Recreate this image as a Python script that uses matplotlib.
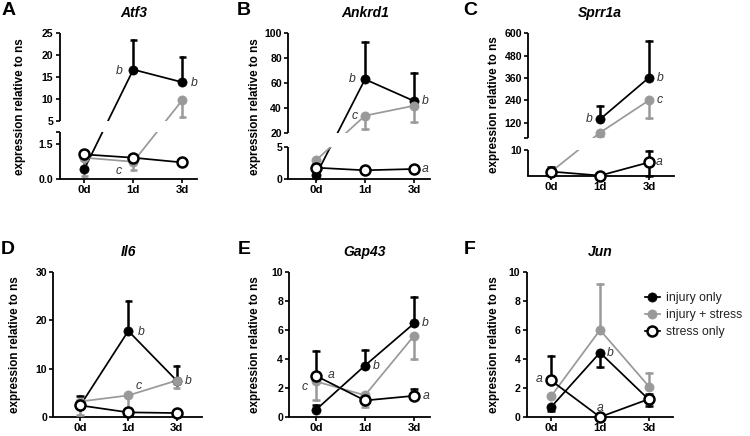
import numpy as np
import matplotlib
matplotlib.use('Agg')
import matplotlib.pyplot as plt
from matplotlib.lines import Line2D

plt.rcParams['font.family'] = ['Liberation Sans', 'DejaVu Sans']

nan = np.nan

days = ['0d', '1d', '3d']
series_names = ['injury only', 'injury + stress', 'stress only']

# each panel: rows = injury only, injury + stress, stress only ; cols = 0d, 1d, 3d
atf3_mean = [[0.42, 16.7, 13.8], [0.9, 0.73, 9.7], [1.04, 0.9, 0.70]]
atf3_up = [[0.38, 6.8, 5.8], [0, 0, 0], [0, 0, 0]]
atf3_dn = [[0, 0, 0], [0.76, 0.35, 3.8], [0, 0, 0]]
atf3_marks = [('b', 0.71, 16.4), ('b', 2.24, 13.6), ('c', 0.71, 0.34)]

ankrd1_mean = [[0.6, 63.0, 45.5], [2.9, 33.7, 41.7], [1.75, 1.35, 1.55]]
ankrd1_up = [[0, 29.8, 22.3], [0, 0, 0], [0.5, 0, 0.45]]
ankrd1_dn = [[0, 0, 0], [0, 10.7, 13.3], [0.5, 0, 0.45]]
ankrd1_marks = [('b', 0.75, 63.0), ('c', 0.78, 33.7), ('b', 2.22, 45.5), ('a', 2.22, 1.55)]

sprr1a_mean = [[nan, 138, 362], [1.5, 66, 240], [1.6, 0.05, 5.2]]
sprr1a_up = [[0, 70, 196], [0, 0, 0], [1.7, 0, 4.5]]
sprr1a_dn = [[0, 0, 0], [0, 18, 93], [0, 0, 5.2]]
sprr1a_marks = [('b', 0.78, 138), ('b', 2.24, 362), ('c', 2.21, 240), ('a', 2.21, 5.2)]

il6_mean = [[2.3, 17.8, 7.55], [3.2, 4.46, 7.55], [2.4, 0.96, 0.82]]
il6_up = [[2.0, 6.2, 3.05], [0, 0, 0], [0, 0, 0]]
il6_dn = [[0, 0, 0], [2.7, 2.6, 1.65], [0, 0, 0]]
il6_marks = [('b', 1.26, 17.6), ('c', 1.21, 6.4), ('b', 2.24, 7.4)]

gap43_mean = [[0.5, 3.55, 6.45], [2.45, 1.5, 5.6], [2.84, 1.14, 1.46]]
gap43_up = [[0.3, 1.07, 1.83], [0, 0, 0], [1.71, 0, 0.49]]
gap43_dn = [[0, 0, 0], [1.26, 0.84, 1.62], [0, 0, 0]]
gap43_marks = [('a', 0.3, 2.9), ('c', -0.24, 2.05), ('b', 1.22, 3.5), ('b', 2.24, 6.5), ('a', 2.24, 1.45)]

jun_mean = [[0.68, 4.44, 1.19], [1.42, 6.0, 2.1], [2.52, 0.0, 1.24]]
jun_up = [[0, 0, 0], [0, 3.2, 0.92], [1.69, 0, 0.36]]
jun_dn = [[0.28, 0.96, 0.46], [0, 0, 0], [0, 0, 0]]
jun_marks = [('a', -0.25, 2.6), ('a', 1.0, 0.62), ('b', 1.2, 4.44)]

W, H = 750, 436
fig = plt.figure(figsize=(7.5, 4.36), dpi=100)


def px(x, y):
    return x / W, 1 - y / H


# panel geometry in figure pixels: spine x, axis end x, 0d tick x, px per day,
# y segments (lo, hi, y_px at lo, y_px at hi), letter x, ylabel x
panels = [
    dict(gene='Atf3', letter='A', mean=atf3_mean, up=atf3_up, dn=atf3_dn, marks=atf3_marks,
         spine=59.5, end=197, t0=84.3, dx=49, lx=9, ylx=20,
         segs=[(0, 2, 179, 131.7), (5, 25, 120.7, 33.3)],
         ticks=[(0, '0.0'), (1.5, '1.5'), (2, ''), (5, '5'), (10, '10'), (15, '15'), (20, '20'), (25, '25')]),
    dict(gene='Ankrd1', letter='B', mean=ankrd1_mean, up=ankrd1_up, dn=ankrd1_dn, marks=ankrd1_marks,
         spine=288.3, end=430, t0=316, dx=49, lx=244, ylx=255,
         segs=[(0, 5, 179, 146.7), (20, 100, 132.7, 33.3)],
         ticks=[(0, '0'), (5, '5'), (20, '20'), (40, '40'), (60, '60'), (80, '80'), (100, '100')]),
    dict(gene='Sprr1a', letter='C', mean=sprr1a_mean, up=sprr1a_up, dn=sprr1a_dn, marks=sprr1a_marks,
         spine=528.3, end=674, t0=551, dx=49, lx=470, ylx=494,
         segs=[(0, 10, 175.7, 150), (40, 600, 137.5, 33.3)],
         ticks=[(10, '10'), (40, ''), (120, '120'), (240, '240'), (360, '360'), (480, '480'), (600, '600')]),
    dict(gene='Il6', letter='D', mean=il6_mean, up=il6_up, dn=il6_dn, marks=il6_marks,
         spine=53.3, end=202, t0=80, dx=48.3, lx=8, ylx=15,
         segs=[(0, 30, 417, 272)],
         ticks=[(0, '0'), (10, '10'), (20, '20'), (30, '30')]),
    dict(gene='Gap43', letter='E', mean=gap43_mean, up=gap43_up, dn=gap43_dn, marks=gap43_marks,
         spine=289.3, end=430, t0=316, dx=49, lx=244, ylx=255,
         segs=[(0, 10, 417, 272)],
         ticks=[(0, '0'), (2, '2'), (4, '4'), (6, '6'), (8, '8'), (10, '10')]),
    dict(gene='Jun', letter='F', mean=jun_mean, up=jun_up, dn=jun_dn, marks=jun_marks,
         spine=526.7, end=673, t0=551, dx=49, lx=470, ylx=494,
         segs=[(0, 10, 417, 272)],
         ticks=[(0, '0'), (2, '2'), (4, '4'), (6, '6'), (8, '8'), (10, '10')]),
]

line_col = ['black', '#999999', 'black']
face_col = ['black', '#999999', 'white']
err_col = ['black', '#999999', 'black']
msize = [6.6, 6.6, 7.2]
medge = [0.5, 0.5, 1.8]

for p in panels:
    segs = p['segs']
    bottom = segs[0][2]
    top = segs[-1][3]

    def to_v(val, segs=segs, bottom=bottom):
        for k, (lo, hi, plo, phi) in enumerate(segs):
            if val <= hi or k == len(segs) - 1:
                return (bottom - plo) + (val - lo) * (plo - phi) / (hi - lo)

    l, b = px(p['spine'], bottom)
    ax = fig.add_axes([l, b, (p['end'] - p['spine']) / W, (bottom - top) / H])
    ax.set_ylim(0, bottom - top)
    x0 = (p['spine'] - p['t0']) / p['dx']
    x1 = (p['end'] - p['t0']) / p['dx']
    ax.set_xlim(x0, x1)
    cw = 3.8 / p['dx']

    ax.spines['top'].set_visible(False)
    ax.spines['right'].set_visible(False)
    ax.spines['left'].set_visible(False)
    ax.spines['bottom'].set_linewidth(1.3)

    # broken left axis
    for lo, hi, plo, phi in segs:
        ax.plot([x0, x0], [to_v(lo), to_v(hi)], color='black', lw=1.3,
                clip_on=False, solid_capstyle='butt', zorder=5)
    if len(segs) > 1:
        ax.axhspan(to_v(segs[0][1]), to_v(segs[1][0]), color='white', lw=0, zorder=2.5)

    ax.set_yticks([to_v(t) for t, _ in p['ticks']])
    ax.set_yticklabels([s for _, s in p['ticks']], fontsize=7.6, fontweight='bold')
    ax.set_xticks([0, 1, 2])
    ax.set_xticklabels(days, fontsize=8.2, fontweight='bold')
    ax.tick_params(axis='both', length=3, width=1.2, pad=1.5)

    x = np.arange(3)
    for i in range(3):
        m = np.array(p['mean'][i], dtype=float)
        vm = np.array([to_v(v) if not np.isnan(v) else nan for v in m])
        ax.plot(x, vm, color=line_col[i], lw=1.25, zorder=2)
        for j in range(3):
            if np.isnan(m[j]):
                continue
            for e, sgn in ((p['up'][i][j], 1), (p['dn'][i][j], -1)):
                if e > 0:
                    ve = to_v(m[j] + sgn * e)
                    ax.plot([j, j], [vm[j], ve], color=err_col[i], lw=1.8, zorder=3 + i * 0.1,
                            clip_on=False)
                    ax.plot([j - cw, j + cw], [ve, ve], color=err_col[i], lw=1.8,
                            zorder=3 + i * 0.1, clip_on=False, solid_capstyle='butt')
        ax.plot(x, vm, ls='none', marker='o', ms=msize[i], mfc=face_col[i],
                mec=line_col[i], mew=medge[i], zorder=4 + i * 0.1, clip_on=False)

    for s, mx, my in p['marks']:
        ax.text(mx, to_v(my), s, style='italic', fontsize=8.8, color='#333333',
                ha='center', va='center', zorder=6)

    ycen = (bottom + top) / 2
    fig.text(*px(p['ylx'], ycen), 'expression relative to ns', rotation=90,
             fontsize=8.4, fontweight='bold', ha='center', va='center')
    fig.text(*px(p['t0'] + p['dx'], top - 20), p['gene'], fontsize=10,
             fontweight='bold', style='italic', ha='center', va='center')
    fig.text(*px(p['lx'], top - 23), p['letter'], fontsize=14,
             fontweight='bold', ha='center', va='center')
    last_ax = ax

handles = [Line2D([], [], color=line_col[i], lw=1.25, marker='o', ms=msize[i],
                  mfc=face_col[i], mec=line_col[i], mew=medge[i]) for i in range(3)]
last_ax.legend(handles, series_names, loc='upper left', bbox_to_anchor=px(645, 292),
               bbox_transform=fig.transFigure, frameon=False, fontsize=8.8,
               handlelength=1.2, handletextpad=0.55, labelspacing=0.42,
               borderpad=0, borderaxespad=0, labelcolor='#222222')

fig.savefig('out.png', dpi=100)
